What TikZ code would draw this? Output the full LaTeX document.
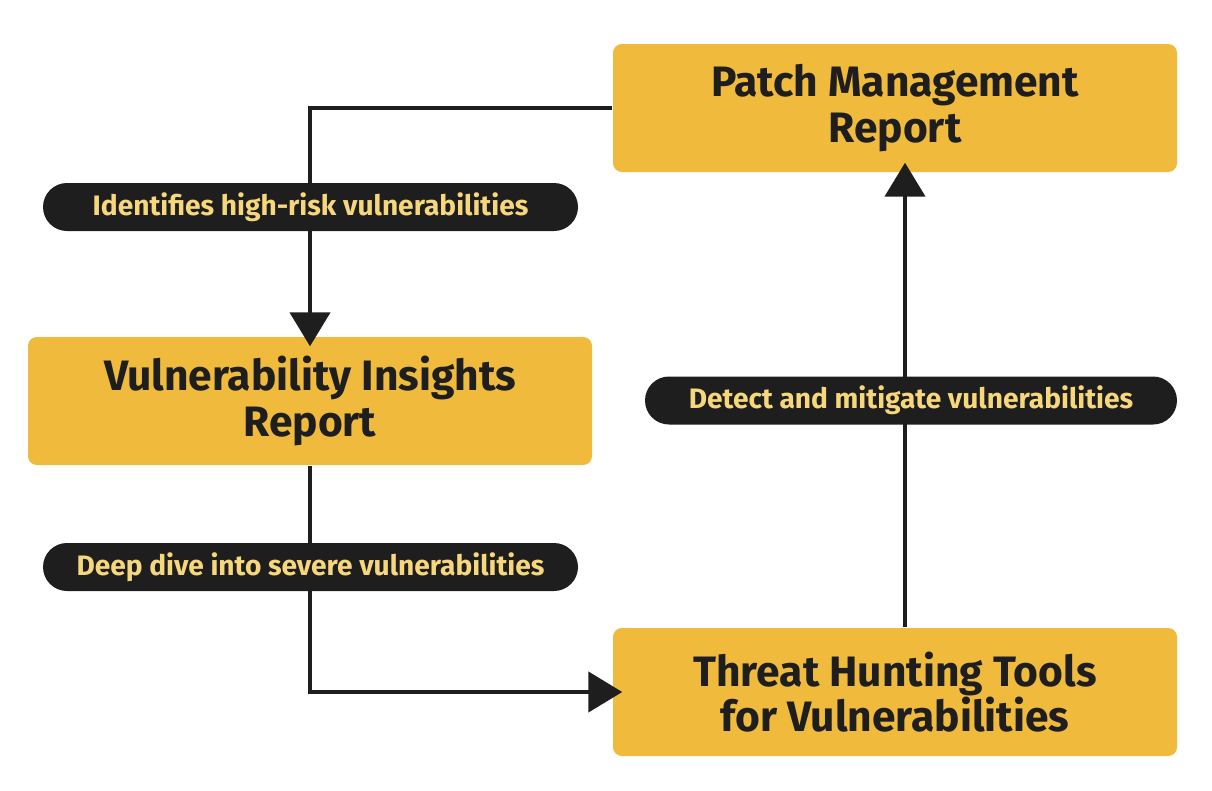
\documentclass[tikz,border=0pt]{standalone}
\usepackage{fontspec}
\setmainfont{Fira Sans}
\usepackage{tikz}
\usetikzlibrary{arrows.meta, positioning, calc}
\definecolor{boxyellow}{HTML}{F0BA3C}
\definecolor{inkblack}{HTML}{1E1E1E}
\definecolor{tagtext}{HTML}{F6D77C}

\tikzset{
  report/.style={rounded corners=2.5pt, fill=boxyellow, text=inkblack, align=center,
    minimum width=5.64cm, minimum height=1.28cm,
    font=\fontsize{12.1}{12.9}\selectfont\bfseries},
  tag/.style={rounded corners=0.24cm, fill=inkblack, text=tagtext,
    minimum height=0.48cm, inner sep=0pt,
    font=\fontsize{8}{9}\selectfont\bfseries},
  flow/.style={inkblack, line width=1.3pt, -{Triangle[width=0.4cm, length=0.34cm]}, shorten >=-0.1cm}
}

\begin{document}
\begin{tikzpicture}
  \useasboundingbox (0,0) rectangle (12.12,7.90);
  % Les trois rapports
  \node[report] (patch) at (8.95,6.82) {Patch Management\\Report};
  \node[report] (insights) at (3.10,3.89) {Vulnerability Insights\\Report};
  \node[report] (threat) at (8.95,0.98) {Threat Hunting Tools\\for Vulnerabilities};

  % Liaisons
  \draw[flow] (patch.west) -| (insights.north);
  \draw[flow] (insights.south) |- (threat.west);
  \draw[flow] ($(threat.north)+(0.1,0)$) -- ($(patch.south)+(0.1,0)$);

  % Etiquettes
  \node[tag, minimum width=5.35cm] (identify) at (3.105,5.83) {Identifies high-risk vulnerabilities};
  \node[tag, minimum width=5.32cm] (detect) at (9.11,3.895) {Detect and mitigate vulnerabilities};
  \node[tag, minimum width=5.35cm] (dive) at (3.105,2.23) {Deep dive into severe vulnerabilities};
\end{tikzpicture}
\end{document}
